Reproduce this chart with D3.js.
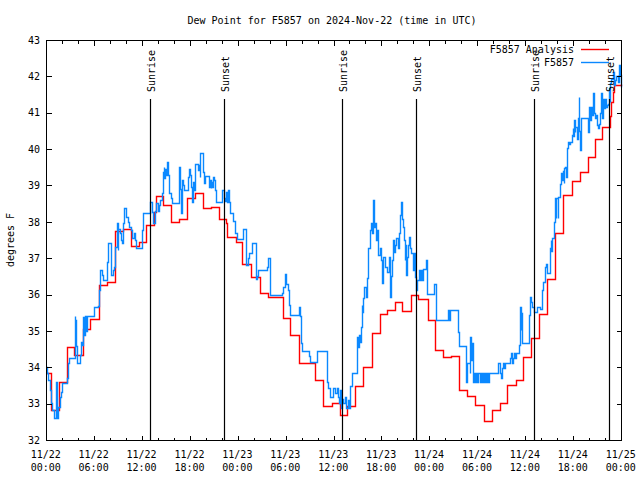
<!DOCTYPE html>
<html><head><meta charset="utf-8">
<script src="https://cdn.jsdelivr.net/npm/d3@7"></script>
<style>
body{margin:0;background:#fff}
svg{display:block}
text{font-family:"DejaVu Sans Mono",monospace;font-size:10px;fill:#000}
</style>
</head><body>
<svg id="c" width="640" height="480"></svg>
<script>
// ---- data (hours after 2024-11-22 00:00 UTC) ----
const titleText = "Dew Point for F5857 on 2024-Nov-22 (time in UTC)";
const seriesNames = ["F5857 Analysis", "F5857"];
const yTicks = [32,33,34,35,36,37,38,39,40,41,42,43];
const sunriseHours = [13.03, 37.03, 61.08];
const sunsetHours = [22.24, 46.37, 70.5];

const analysisHours = [0,0.59,1.63,2.6,3.52,4.65,5.53,6.66,7.63,8.67,9.68,10.64,11.69,12.53,13.57,13.78,14.6,15.67,16.71,17.63,18.6,19.6,20.6,21.61,22.58,22.66,23.75,24.59,25.72,26.77,27.81,29.7,30.6,31.73,33.68,34.74,35.78,36.76,37.66,38.7,39.75,40.8,41.84,42.69,43.73,44.61,45.7,46.62,47.88,48.76,49.76,50.77,51.77,52.74,53.78,54.83,55.79,56.84,57.77,58.81,59.73,60.78,61.79,62.74,63.75,64.75,65.81,66.81,67.82,68.77,69.65,70.66,70.75,70.96,71.16,72];
const analysisValues = [33.83,32.82,33.6,34.57,34.34,35.04,35.33,36.26,36.35,37.75,37.8,37.33,37.45,37.91,38.28,38.7,38.46,38.0,38.07,38.65,38.78,38.37,38.42,38.07,37.96,37.57,37.45,36.84,36.47,36.03,35.93,35.35,34.9,34.12,33.65,32.93,33.03,32.69,32.93,33.48,34.0,34.93,35.46,35.57,35.79,35.56,35.99,35.87,35.3,34.47,34.27,34.31,33.37,33.21,32.96,32.52,32.82,33.01,33.51,33.65,34.29,34.8,35.46,36.42,37.68,38.74,39.12,39.36,39.77,40.28,40.62,40.91,41.3,41.58,41.76,41.78];

const obsHours = [0,0.08,0.25,0.5,0.67,0.8,1.0,1.3,1.36,1.51,1.72,1.93,2.05,2.6,2.76,2.89,3.6,3.65,3.69,3.73,3.81,3.94,4.23,4.36,4.48,4.65,4.78,4.86,4.98,5.11,6.03,6.45,6.66,6.79,6.95,7.08,7.62,7.71,8.13,8.34,8.46,8.63,8.88,8.96,9.05,9.21,9.38,9.51,9.63,9.8,10.01,10.22,10.43,10.64,10.77,10.97,11.14,11.27,11.98,12.1,13.03,13.28,13.45,13.6,13.78,14.07,14.2,14.33,14.49,14.62,14.74,14.83,14.95,15.04,15.12,15.25,15.37,15.46,15.67,15.79,16.71,16.84,16.92,17.01,17.13,17.22,17.76,17.89,17.97,18.1,18.26,18.39,18.51,18.64,19.02,19.1,19.23,19.31,19.64,19.77,19.94,20.36,20.48,20.61,20.69,20.78,20.9,21.03,21.19,21.32,22.07,22.24,22.37,22.49,22.58,22.7,22.79,22.91,23.0,23.45,23.7,23.88,24.62,25.09,25.25,25.4,25.8,26.26,26.4,26.6,27.68,27.75,28.06,29.53,29.65,29.91,30.03,30.24,30.41,30.54,31.67,31.79,31.92,32.09,32.92,33.05,33.89,35.18,35.35,35.56,35.98,36.19,36.4,36.52,36.73,36.82,36.94,37.11,37.24,37.45,37.57,37.78,37.95,38.12,38.29,38.91,39.0,39.12,39.21,39.33,39.46,39.54,39.62,39.75,39.88,40.04,40.17,40.38,40.59,40.71,40.88,41.0,41.09,41.22,41.3,41.43,41.55,41.63,41.76,41.93,42.05,42.14,42.26,42.47,42.68,42.89,43.02,43.1,43.23,43.31,43.44,43.6,43.73,43.86,44.02,44.15,44.36,44.48,44.57,44.69,44.78,44.9,44.99,45.11,45.2,45.32,45.49,45.61,45.74,45.9,46.03,46.16,46.24,46.33,46.46,46.66,46.79,46.96,47.09,47.21,47.59,47.75,48.54,48.82,50.3,50.43,50.55,51.61,51.69,52.53,52.61,52.74,53.07,53.15,53.24,53.37,53.44,53.57,53.7,53.82,54.0,54.12,54.29,54.41,54.54,54.66,54.79,54.95,55.08,55.25,55.38,55.45,56.63,56.8,56.92,57.05,57.14,57.26,57.39,57.46,58.05,58.18,58.31,58.47,58.6,58.72,58.9,59.22,59.31,59.44,59.52,59.6,60.48,60.57,60.69,60.82,61.1,61.51,61.85,62.06,62.29,62.45,62.58,62.7,62.87,63.12,63.21,63.29,63.38,63.63,63.75,63.84,63.92,64.05,64.17,64.3,64.38,64.46,64.59,64.68,64.8,64.88,65.01,65.09,65.22,65.3,65.38,65.51,65.63,65.84,65.93,66.05,66.13,66.22,66.3,66.43,66.56,66.68,66.77,66.85,66.98,67.9,68.03,68.15,68.28,68.4,68.53,68.65,68.78,68.9,68.99,69.08,69.2,69.33,69.49,69.62,69.7,69.83,69.99,70.12,70.25,70.33,70.46,70.58,70.66,70.79,70.96,71.08,71.24,71.41,71.58,71.66,71.79,71.91,72.0];
const obsValues = [34.02,33.85,33.65,33.37,33.01,32.82,32.6,33.6,32.6,32.92,33.19,33.33,33.58,33.7,34.11,34.25,35.41,34.5,35.3,34.9,34.58,34.11,34.34,34.7,34.6,35.39,34.89,35.41,35.0,35.41,35.65,35.68,36.12,36.67,36.54,36.4,36.9,37.41,36.54,36.67,36.76,37.32,37.96,37.22,37.8,37.7,37.5,37.41,37.96,38.37,38.14,38.0,37.87,37.78,37.55,37.69,37.5,37.27,37.78,38.25,38.54,38.28,37.97,38.3,38.51,38.3,38.46,38.6,38.78,39.38,39.52,39.2,39.45,39.3,39.65,39.3,39.1,38.78,38.65,38.51,39.52,38.9,38.23,39.15,39.0,38.88,39.24,39.45,39.3,38.97,38.55,39.1,38.88,39.59,39.43,39.56,39.24,39.9,39.38,39.06,39.26,38.97,39.15,38.93,39.1,38.97,39.24,39.15,38.88,38.55,38.88,38.65,38.58,38.65,38.81,38.55,38.88,38.55,38.23,38.02,37.7,37.52,37.79,36.82,37.0,37.13,37.43,36.44,36.5,36.67,36.75,37.0,35.99,36.05,36.22,36.57,36.3,36.12,35.71,35.44,35.67,35.4,34.66,34.45,34.3,34.15,34.45,33.6,33.42,33.19,33.44,33.3,33.44,33.19,33.01,33.37,32.87,33.14,33.01,33.17,32.87,33.11,32.87,33.48,33.85,34.38,34.84,34.57,34.89,34.7,35.12,35.71,35.53,35.9,36.22,35.94,36.45,37.27,37.78,37.96,37.69,38.6,37.87,37.96,37.5,37.78,37.46,37.09,37.27,36.95,36.31,36.59,37.04,36.76,36.63,37.04,36.45,35.94,36.5,36.95,37.5,37.18,37.37,37.55,37.27,37.69,38.19,38.55,38.09,37.87,37.5,36.95,37.36,36.54,37.04,37.36,37.59,37.27,37.13,36.68,37.13,36.63,36.49,36.12,36.4,36.67,36.4,36.67,36.4,36.69,36.95,36.02,36.29,35.3,35.57,35.3,35.57,34.98,34.58,34.11,33.6,34.11,33.83,34.84,34.2,34.68,33.6,33.83,33.6,33.83,33.6,33.83,33.6,33.83,33.6,33.83,33.6,33.83,33.6,33.83,33.6,33.83,34.11,33.83,33.7,33.83,33.97,34.11,33.97,34.11,34.25,34.38,34.11,34.25,34.38,34.25,34.38,34.61,35.67,35.02,35.5,34.68,35.44,35.94,35.8,35.67,35.53,35.67,35.6,36.12,36.35,36.77,36.83,36.6,36.58,37.27,37.5,37.2,37.55,38.0,38.65,38.1,38.65,38.1,38.69,38.78,39.03,39.33,39.15,39.4,39.06,39.47,39.52,39.24,39.7,40.02,40.2,40.15,40.2,40.39,40.57,40.35,40.8,40.48,40.62,40.29,40.85,41.44,40.5,39.97,40.85,40.48,41.17,40.8,41.17,40.93,41.53,41.0,40.85,40.95,40.66,40.57,40.7,40.98,41.53,40.85,41.39,41.12,41.39,41.17,41.2,41.25,41.67,41.3,41.81,41.94,42.13,41.76,41.9,42.0,42.04,41.85,42.31,42.04,41.71];

// ---- chart ----
const startMs = Date.UTC(2024, 10, 22);
const toDate = h => new Date(startMs + h * 3600000);
const svg = d3.select("#c");
const x = d3.scaleUtc().domain([toDate(0), toDate(72)]).range([46.5, 621.5]);
const y = d3.scaleLinear().domain([32, 43]).range([440.5, 40.5]);
const snap = v => Math.round(v - 0.5) + 0.5;

const analysis = analysisHours.map((h, i) => ({t: toDate(h), v: analysisValues[i]}));
const obs = obsHours.map((h, i) => ({t: toDate(h), v: obsValues[i]}));

const line = d3.line().x(d => snap(x(d.t))).y(d => snap(y(d.v))).curve(d3.curveStepAfter);

svg.append("path").datum(analysis).attr("d", line)
  .attr("fill", "none").attr("stroke", "#ff0000").attr("stroke-width", 1.4);
svg.append("path").datum(obs).attr("d", line)
  .attr("fill", "none").attr("stroke", "#0a88ff").attr("stroke-width", 1.4);

// sun lines
const sunEvents = sunriseHours.map(h => ({h, label: "Sunrise"}))
  .concat(sunsetHours.map(h => ({h, label: "Sunset"})));
const sg = svg.append("g");
sunEvents.forEach(e => {
  const xx = snap(x(toDate(e.h)));
  sg.append("line").attr("x1", xx).attr("x2", xx).attr("y1", 99).attr("y2", 440.5)
    .attr("stroke", "#000").attr("stroke-width", 1.2);
  sg.append("text").attr("transform", `translate(${xx + 4},92) rotate(-90)`)
    .attr("text-anchor", "start").text(e.label);
});

// axes
const majors = d3.utcHour.every(6).range(toDate(0), toDate(72.01));
const minors = d3.utcHour.every(2).range(toDate(0), toDate(72.01)).filter(d => d.getUTCHours() % 6 !== 0);
function tickAxis(gen, tr, vals, size) {
  svg.append("g").attr("transform", tr).attr("shape-rendering", "crispEdges")
    .call(gen.tickValues(vals).tickSizeInner(-size).tickSizeOuter(0).tickFormat("").offset(0))
    .call(g => g.select(".domain").remove());
}
tickAxis(d3.axisBottom(x), "translate(0,440.5)", majors, 5);
tickAxis(d3.axisBottom(x), "translate(0,440.5)", minors, 3);
tickAxis(d3.axisTop(x), "translate(0,40.5)", majors, 5);
tickAxis(d3.axisTop(x), "translate(0,40.5)", minors, 3);
tickAxis(d3.axisRight(y), "translate(621.5,0)", yTicks, 5);

svg.append("g").attr("transform", "translate(46.5,0)").attr("shape-rendering", "crispEdges")
  .call(d3.axisLeft(y).tickValues(yTicks).tickSizeInner(-5).tickSizeOuter(0).tickPadding(6.5).offset(0).tickFormat(d3.format("d")))
  .call(g => g.select(".domain").remove());

// x tick labels (two lines)
const fmtDay = d3.utcFormat("%m/%d"), fmtTime = d3.utcFormat("%H:%M");
const xl = svg.append("g");
majors.forEach(d => {
  const t = xl.append("text").attr("text-anchor", "middle");
  t.append("tspan").attr("x", x(d) - 0.8).attr("y", 458).text(fmtDay(d));
  t.append("tspan").attr("x", x(d) - 0.8).attr("y", 471).text(fmtTime(d));
});

// frame
svg.append("rect").attr("x", 46.5).attr("y", 40.5).attr("width", 575).attr("height", 400)
  .attr("fill", "none").attr("stroke", "#000").attr("shape-rendering", "crispEdges");

// title and y label
svg.append("text").attr("x", 332).attr("y", 24).attr("text-anchor", "middle").text(titleText);
svg.append("text").attr("transform", "translate(14,240) rotate(-90)").attr("text-anchor", "middle").text("degrees F");

// legend
const legColors = ["#ff0000", "#0a88ff"];
seriesNames.forEach((n, i) => {
  const yy = 49.5 + i * 13;
  svg.append("text").attr("x", 574).attr("y", yy + 3.5).attr("text-anchor", "end").text(n);
  svg.append("line").attr("x1", 581).attr("x2", 609).attr("y1", yy).attr("y2", yy)
    .attr("stroke", legColors[i]).attr("stroke-width", 1.4);
});
</script>
</body></html>
